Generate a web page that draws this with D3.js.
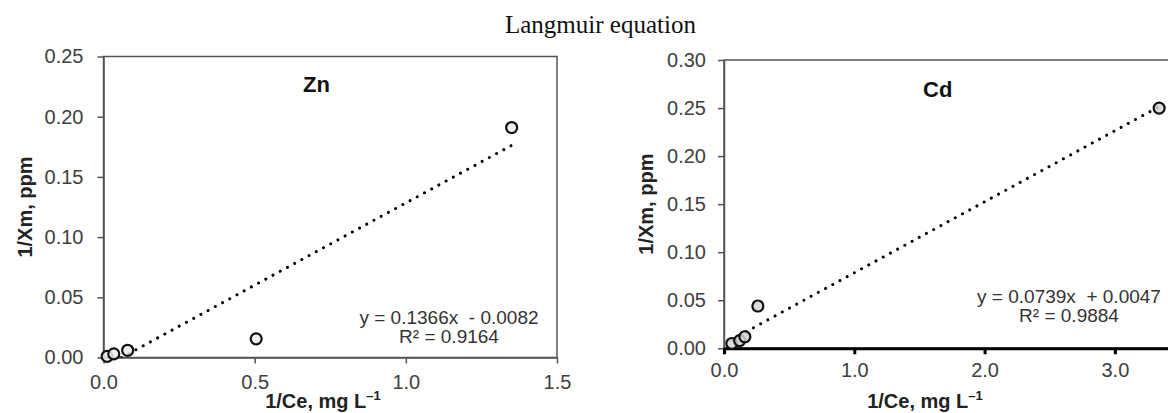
<!DOCTYPE html>
<html>
<head>
<meta charset="utf-8">
<script src="https://cdn.jsdelivr.net/npm/d3@7"></script>
<style>
  body { margin: 0; background: #fff; }
  svg { display: block; font-family: "Liberation Sans", Arial, sans-serif; }
  .tick text { fill: #404040; font-size: 20px; }
</style>
</head>
<body>
<div id="chart"></div>
<script>
// Zn panel
const znX = [0.012, 0.034, 0.08, 0.505, 1.35];
const znY = [0.001, 0.003, 0.006, 0.0155, 0.191];
const znFit = [0.1366, -0.0082];
const znLabels = ["y = 0.1366x  - 0.0082", "R² = 0.9164"];
const znXTicks = [0, 0.5, 1.0, 1.5];
const znYTicks = [0, 0.05, 0.10, 0.15, 0.20, 0.25];

// Cd panel
const cdX = [0.06, 0.12, 0.16, 0.26, 3.34];
const cdY = [0.005, 0.008, 0.012, 0.044, 0.25];
const cdFit = [0.0739, 0.0047];
const cdLabels = ["y = 0.0739x  + 0.0047", "R² = 0.9884"];
const cdXTicks = [0, 1.0, 2.0, 3.0];
const cdYTicks = [0, 0.05, 0.10, 0.15, 0.20, 0.25, 0.30];

const width = 1168, height = 413;

const svg = d3.select("#chart").append("svg")
    .attr("width", width)
    .attr("height", height);

svg.append("text")
    .attr("x", 505)
    .attr("y", 33)
    .style("font-family", "'Liberation Serif', 'Times New Roman', serif")
    .style("font-size", "25px")
    .attr("fill", "#111")
    .text("Langmuir equation");

function drawPanel(cfg) {

    const x = d3.scaleLinear().domain(cfg.xDomain).range([cfg.left, cfg.right]);
    const y = d3.scaleLinear().domain(cfg.yDomain).range([cfg.bottom, cfg.top]);

    const g = svg.append("g");

    const clipId = "clip-" + cfg.name;
    g.append("clipPath").attr("id", clipId)
        .append("rect")
        .attr("x", cfg.left).attr("y", cfg.top)
        .attr("width", cfg.right - cfg.left)
        .attr("height", cfg.bottom - cfg.top);

    // plot border
    g.append("rect")
        .attr("x", cfg.left).attr("y", cfg.top)
        .attr("width", cfg.right - cfg.left)
        .attr("height", cfg.bottom - cfg.top)
        .attr("fill", "none")
        .attr("stroke", "#555")
        .attr("stroke-width", 1.5);

    const yAxis = g.append("g")
        .attr("transform", `translate(${cfg.left},0)`)
        .call(d3.axisLeft(y).tickValues(cfg.yTicks).tickFormat(d3.format(".2f"))
            .tickSize(6).tickSizeOuter(0).tickPadding(cfg.yPad));
    yAxis.select(".domain").attr("stroke", "#555").attr("stroke-width", 1.5);
    yAxis.selectAll(".tick line").attr("stroke", "#555").attr("stroke-width", 1.5);
    yAxis.selectAll(".tick text").style("font-family", "'Liberation Sans', Arial, sans-serif");

    const xAxis = g.append("g")
        .attr("transform", `translate(0,${cfg.bottom})`)
        .call(d3.axisBottom(x).tickValues(cfg.xTicks).tickFormat(d3.format(".1f"))
            .tickSize(6).tickSizeOuter(0).tickPadding(cfg.xPad));
    xAxis.select(".domain").attr("stroke", cfg.xAxisColor).attr("stroke-width", cfg.xAxisWidth);
    xAxis.selectAll(".tick line").attr("stroke", cfg.xAxisColor).attr("stroke-width", cfg.xAxisWidth);
    xAxis.selectAll(".tick text").style("font-family", "'Liberation Sans', Arial, sans-serif");

    // axis titles
    g.append("text")
        .attr("transform", `translate(${cfg.yLabelX},${(cfg.top + cfg.bottom) / 2}) rotate(-90)`)
        .attr("text-anchor", "middle")
        .attr("dy", "0.35em")
        .style("font-size", "20px")
        .style("font-weight", "bold")
        .attr("fill", "#222")
        .text("1/Xm, ppm");

    const xl = g.append("text")
        .attr("x", cfg.xLabelX)
        .attr("y", 408)
        .attr("text-anchor", "middle")
        .style("font-size", "20px")
        .style("font-weight", "bold")
        .attr("fill", "#222");
    xl.append("tspan").text("1/Ce, mg L");
    xl.append("tspan").attr("dy", -8).style("font-size", "13px").text("–1");

    // panel name
    g.append("text")
        .attr("x", cfg.nameX)
        .attr("y", cfg.nameY)
        .style("font-size", "22px")
        .style("font-weight", "bold")
        .attr("fill", "#111")
        .text(cfg.name);

    // trendline
    const x0 = d3.min(cfg.xs), x1 = d3.max(cfg.xs);
    const fit = v => cfg.fit[0] * v + cfg.fit[1];
    g.append("line")
        .attr("clip-path", `url(#${clipId})`)
        .attr("x1", x(x0)).attr("y1", y(fit(x0)))
        .attr("x2", x(x1)).attr("y2", y(fit(x1)))
        .attr("stroke", "#000")
        .attr("stroke-width", 3)
        .attr("stroke-linecap", "round")
        .attr("stroke-dasharray", "0.01 8.2");

    // points
    g.selectAll("circle.pt")
        .data(cfg.xs.map((v, i) => [v, cfg.ys[i]]))
        .enter()
        .append("circle")
        .attr("class", "pt")
        .attr("cx", d => x(d[0]))
        .attr("cy", d => y(d[1]))
        .attr("r", 5.5)
        .attr("fill", cfg.pointFill)
        .attr("fill-opacity", 0.85)
        .attr("stroke", "#111")
        .attr("stroke-width", 2.2);

    // equation
    const eq = g.append("text")
        .attr("text-anchor", "middle")
        .style("font-size", "19px")
        .style("white-space", "pre")
        .attr("fill", "#333");
    cfg.labels.forEach((t, i) => {
        eq.append("tspan")
            .attr("x", cfg.eqX)
            .attr("y", cfg.eqY + i * 19)
            .text(t);
    });
}

drawPanel({
    name: "Zn",
    xs: znX, ys: znY, fit: znFit, labels: znLabels,
    xDomain: [0, 1.5], yDomain: [0, 0.25],
    xTicks: znXTicks, yTicks: znYTicks,
    left: 103.5, right: 557, top: 56.5, bottom: 357.5,
    yPad: 14, xPad: 11,
    xAxisColor: "#555", xAxisWidth: 1.5,
    yLabelX: 25, xLabelX: 323,
    nameX: 303, nameY: 92,
    eqX: 449, eqY: 324,
    pointFill: "#ececec"
});

drawPanel({
    name: "Cd",
    xs: cdX, ys: cdY, fit: cdFit, labels: cdLabels,
    xDomain: [0, 3.5], yDomain: [0, 0.30],
    xTicks: cdXTicks, yTicks: cdYTicks,
    left: 724, right: 1180, top: 60, bottom: 348.3,
    yPad: 12, xPad: 9,
    xAxisColor: "#000", xAxisWidth: 3,
    yLabelX: 646, xLabelX: 925,
    nameX: 923, nameY: 97,
    eqX: 1069, eqY: 303,
    pointFill: "#d4d4d4"
});
</script>
</body>
</html>
